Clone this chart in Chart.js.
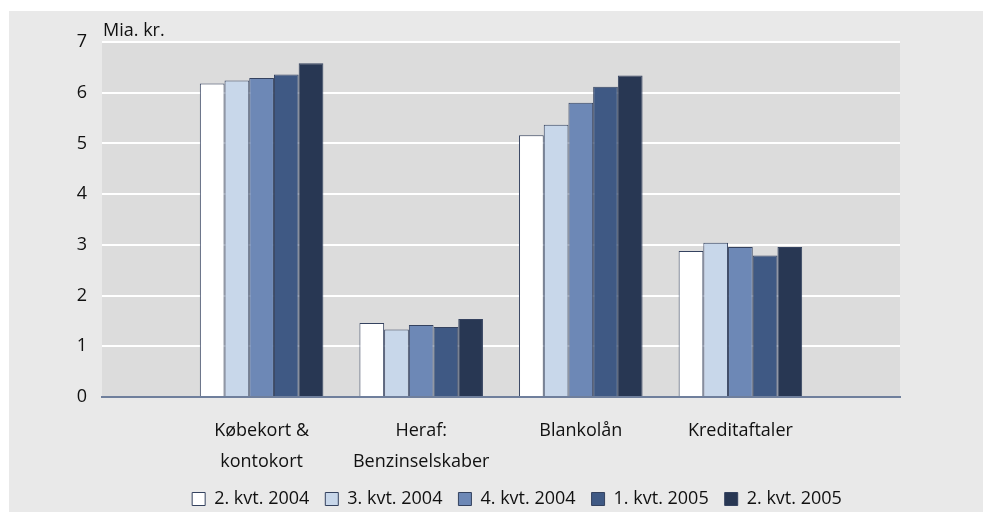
<!DOCTYPE html>
<html>
<head>
  <meta charset="utf-8">
  <title>Mia. kr.</title>
  <script src="https://cdn.jsdelivr.net/npm/chart.js"></script>
  <style>
    html, body {
      margin: 0;
      padding: 0;
      background-color: #fff;
      overflow: hidden;
    }
    /* grey panel behind the chart */
    .panel {
      position: absolute;
      left: 9px;
      top: 11px;
      width: 974px;
      height: 501px;
      background-color: #e9e9e9;
    }
  </style>
</head>
<body>
  <div class="panel">
    <canvas id="chart" width="974" height="501"></canvas>
  </div>

  <script>
    // Categories (empty slots at both ends, as in the original)
    const categories = ['', ['Købekort &', 'kontokort'], ['Heraf:', 'Benzinselskaber'], 'Blankolån', 'Kreditaftaler', ''];

    // Series, Mia. kr.
    const seriesNames = ['2. kvt. 2004', '3. kvt. 2004', '4. kvt. 2004', '1. kvt. 2005', '2. kvt. 2005'];
    const q2_2004 = [null, 6.18, 1.46, 5.16, 2.88, null];
    const q3_2004 = [null, 6.24, 1.33, 5.37, 3.04, null];
    const q4_2004 = [null, 6.29, 1.42, 5.80, 2.96, null];
    const q1_2005 = [null, 6.36, 1.38, 6.12, 2.79, null];
    const q2_2005 = [null, 6.58, 1.54, 6.34, 2.96, null];

    const yTicks = [0, 1, 2, 3, 4, 5, 6, 7];

    const colors = ['#ffffff', '#c8d7ea', '#6d88b6', '#3f5984', '#283753'];
    const allSeries = [q2_2004, q3_2004, q4_2004, q1_2005, q2_2005];

    const fontFamily = '"Open Sans", "Noto Sans", sans-serif';

    // plot background + "Mia. kr." label
    const plotDecor = {
      id: 'plotDecor',
      beforeDraw(chart) {
        const a = chart.chartArea;
        const ctx = chart.ctx;
        ctx.save();
        ctx.fillStyle = '#dcdcdc';
        ctx.fillRect(a.left, a.top, a.right - a.left, a.bottom - a.top);
        ctx.restore();
      },
      afterDraw(chart) {
        const a = chart.chartArea;
        const ctx = chart.ctx;
        ctx.save();
        ctx.fillStyle = '#111';
        ctx.font = '18px ' + fontFamily;
        ctx.textAlign = 'left';
        ctx.textBaseline = 'middle';
        ctx.fillText('Mia. kr.', a.left + 1, a.top - 11);
        ctx.restore();
      }
    };

    const ctx = document.getElementById('chart').getContext('2d');
    const chart = new Chart(ctx, {
      type: 'bar',
      data: {
        labels: categories,
        datasets: allSeries.map((d, i) => ({
          label: seriesNames[i],
          data: d,
          backgroundColor: colors[i],
          borderColor: '#34425f',
          borderWidth: 1,
          barPercentage: 1,
          categoryPercentage: 0.774
        }))
      },
      options: {
        responsive: false,
        animation: false,
        layout: {
          // negative bottom pushes the legend row down to the panel edge
          padding: { left: 42, right: 0, top: 31, bottom: -6 }
        },
        plugins: {
          legend: {
            position: 'bottom',
            labels: {
              boxWidth: 13,
              boxHeight: 13,
              padding: 16,
              color: '#111',
              font: { family: fontFamily, size: 18 }
            }
          },
          tooltip: { enabled: false }
        },
        scales: {
          x: {
            offset: false,
            afterFit(s) { s.height = 77; },
            grid: { display: false, drawTicks: false },
            border: { display: true, color: '#6f7f9c', width: 2 },
            ticks: {
              autoSkip: false,
              maxRotation: 0,
              padding: 18,
              color: '#111',
              font: { family: fontFamily, size: 18, lineHeight: 1.72 }
            }
          },
          y: {
            min: 0,
            max: 7,
            afterFit(s) { s.width = 51; },
            afterBuildTicks(s) { s.ticks = yTicks.map(v => ({ value: v })); },
            grid: { color: '#ffffff', lineWidth: 2, drawTicks: false },
            border: { display: false },
            ticks: {
              padding: 15,
              color: '#111',
              font: { family: fontFamily, size: 18 }
            }
          },
          // empty right-hand axis, only reserves the margin right of the plot
          yRight: {
            position: 'right',
            display: true,
            afterFit(s) { s.width = 83; },
            grid: { display: false, drawOnChartArea: false },
            border: { display: false },
            ticks: { display: false }
          }
        }
      },
      plugins: [plotDecor]
    });
  </script>
</body>
</html>
